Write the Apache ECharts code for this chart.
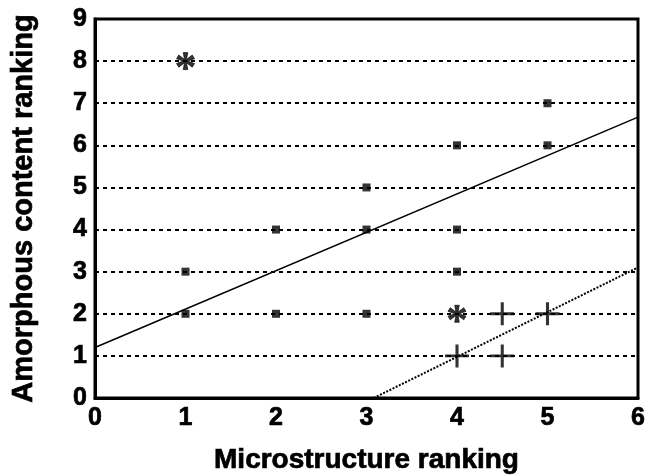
<!DOCTYPE html>
<html>
<head>
<meta charset="utf-8">
<script src="https://cdn.jsdelivr.net/npm/echarts@6/dist/echarts.min.js"></script>
<style>
  html, body { margin: 0; padding: 0; background: #fff; }
  #chart { width: 657px; height: 475px; }
</style>
</head>
<body>
<div id="chart"></div>
<script>
// Ranked samples: [microstructure rank, amorphous content rank]
const squarePoints = [
  [1, 2], [1, 3], [2, 2], [2, 4], [3, 2], [3, 4], [3, 5],
  [4, 3], [4, 4], [4, 6], [5, 6], [5, 7]
];
const asteriskPoints = [[1, 8], [4, 2]];
const plusPoints = [[4, 1], [4.5, 1], [4.5, 2], [5, 2]];

// Trend lines (end points in data units)
const solidLine = [[0, 1.2], [6, 6.67]];
const dottedLine = [[3.08, 0], [6, 3.1]];

const xTicks = [0, 1, 2, 3, 4, 5, 6];
const yTicks = [0, 1, 2, 3, 4, 5, 6, 7, 8, 9];

const FONT = 'Liberation Sans, Arial, sans-serif';
const heavyText = { fontFamily: FONT, fontWeight: 'bold', color: '#000', textBorderColor: '#000', textBorderWidth: 0.7 };

// Six-armed asterisk, arms widening toward the tips
const ASTERISK = 'path://M-2.42,-9.7 L2.42,-9.7 L1.1,-1.905 L7.19,-6.95 L9.61,-2.76 L2.2,0 ' +
  'L9.61,2.76 L7.19,6.95 L1.1,1.905 L2.42,9.7 L-2.42,9.7 L-1.1,1.905 L-7.19,6.95 ' +
  'L-9.61,2.76 L-2.2,0 L-9.61,-2.76 L-7.19,-6.95 L-1.1,-1.905 Z';

const chart = echarts.init(document.getElementById('chart'), null, { renderer: 'canvas' });

chart.setOption({
  animation: false,
  backgroundColor: '#ffffff',
  grid: {
    left: 95, top: 19, right: 19, bottom: 77,
    outerBoundsMode: 'none', containLabel: false,
    show: true, borderColor: '#000', borderWidth: 3, backgroundColor: 'transparent'
  },
  xAxis: {
    type: 'value',
    min: xTicks[0], max: xTicks[xTicks.length - 1], interval: 1,
    name: 'Microstructure ranking',
    nameLocation: 'middle', nameGap: 48,
    nameTextStyle: Object.assign({ fontSize: 28 }, heavyText),
    axisLine: { show: true, lineStyle: { color: '#000', width: 3 } },
    axisTick: { show: false },
    axisLabel: Object.assign({ fontSize: 25, margin: 8 }, heavyText),
    splitLine: { show: false }
  },
  yAxis: {
    type: 'value',
    min: yTicks[0], max: yTicks[yTicks.length - 1], interval: 1,
    name: 'Amorphous content ranking',
    nameLocation: 'middle', nameGap: 57, nameRotate: 90,
    nameTextStyle: Object.assign({ fontSize: 29 }, heavyText),
    axisLine: { show: true, lineStyle: { color: '#000', width: 3 } },
    axisTick: { show: false },
    axisLabel: Object.assign({ fontSize: 25, margin: 8 }, heavyText),
    splitLine: {
      show: true,
      showMinLine: false, showMaxLine: false,
      lineStyle: { color: '#000', width: 2, type: [4, 4] }
    }
  },
  series: [
    {
      type: 'line', data: solidLine, symbol: 'none', silent: true,
      lineStyle: { color: '#000', width: 1.5, type: 'solid' }, z: 3
    },
    {
      type: 'line', data: dottedLine, symbol: 'none', silent: true,
      lineStyle: { color: '#000', width: 2, type: [2, 1.5] }, z: 3
    },
    {
      type: 'scatter', data: squarePoints, symbol: 'rect', symbolSize: 8,
      itemStyle: { color: '#000' }, z: 4
    },
    {
      type: 'scatter', data: asteriskPoints,
      symbol: ASTERISK,
      symbolSize: [18, 17], symbolKeepAspect: false,
      itemStyle: { color: '#000', borderColor: '#000', borderWidth: 0.8 }, z: 4
    },
    {
      type: 'scatter', data: plusPoints,
      symbol: 'path://M-10,0 L10,0 M0,-10 L0,10',
      symbolSize: [24, 23],
      itemStyle: { color: 'none', borderColor: '#000', borderWidth: 3 }, z: 4
    }
  ]
});
</script>
</body>
</html>
